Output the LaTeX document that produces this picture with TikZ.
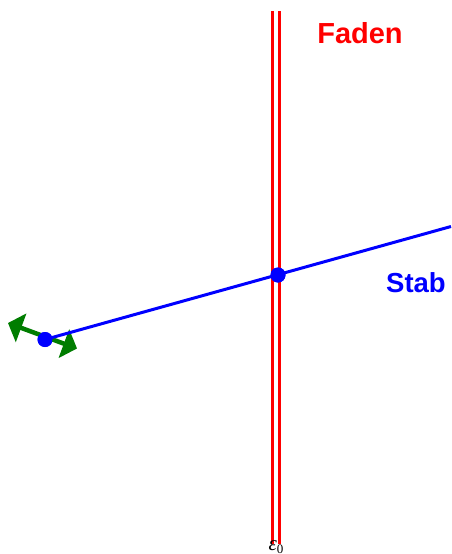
\documentclass[tikz,border=0pt]{standalone}
\usepackage{fontspec}
\setmainfont{Liberation Sans}
\newfontfamily\serifit{Liberation Serif}
\usetikzlibrary{arrows.meta}
\definecolor{fgreen}{RGB}{0,125,0}
\tikzset{
  faden/.style={draw=red, line width=3.3pt},
  stab/.style={draw=blue, line width=3pt},
  dot/.style={circle, fill=blue, inner sep=0pt, minimum size=15pt},
  greenarrow/.style={draw=fgreen, line width=4.5pt, {Triangle[length=14pt,width=30pt]}-{Triangle[length=14pt,width=30pt]}},
  lab/.style={font=\fontsize{29}{32}\selectfont\bfseries, inner sep=0pt, anchor=base}
}
\begin{document}
\begin{tikzpicture}[x=1pt,y=-1pt]
\useasboundingbox (0,0) rectangle (451,554);
% Faden
\coordinate (f1t) at (272.7,11);
\coordinate (f1b) at (272.7,544);
\coordinate (f2t) at (279.7,11);
\coordinate (f2b) at (279.7,544);
\draw[faden] (f1t) -- (f1b);
\draw[faden] (f2t) -- (f2b);
% Stab
\coordinate (send) at (451,226.5);
\node[dot] (p0) at (45,339.5) {};
\node[dot] (p1) at (278,275) {};
\coordinate (ga) at (8,323);
\coordinate (gb) at (77,348.5);
\draw[greenarrow] (ga) -- (gb);
\draw[stab] (p0.center) -- (send);
\node[dot] at (p0) {};
\node[dot] at (p1) {};
\node[lab, text=red] (faden) at (360,43) {Faden};
\node[lab, text=blue, font=\fontsize{27.5}{30}\selectfont\bfseries] (stabl) at (416,292) {Stab};
\node[anchor=base, inner sep=0pt] (eps) at (276,550) {\serifit\fontsize{21}{23}\selectfont\itshape ε\raisebox{-3pt}{\fontsize{13}{14}\selectfont\upshape 0}};
\end{tikzpicture}
\end{document}
